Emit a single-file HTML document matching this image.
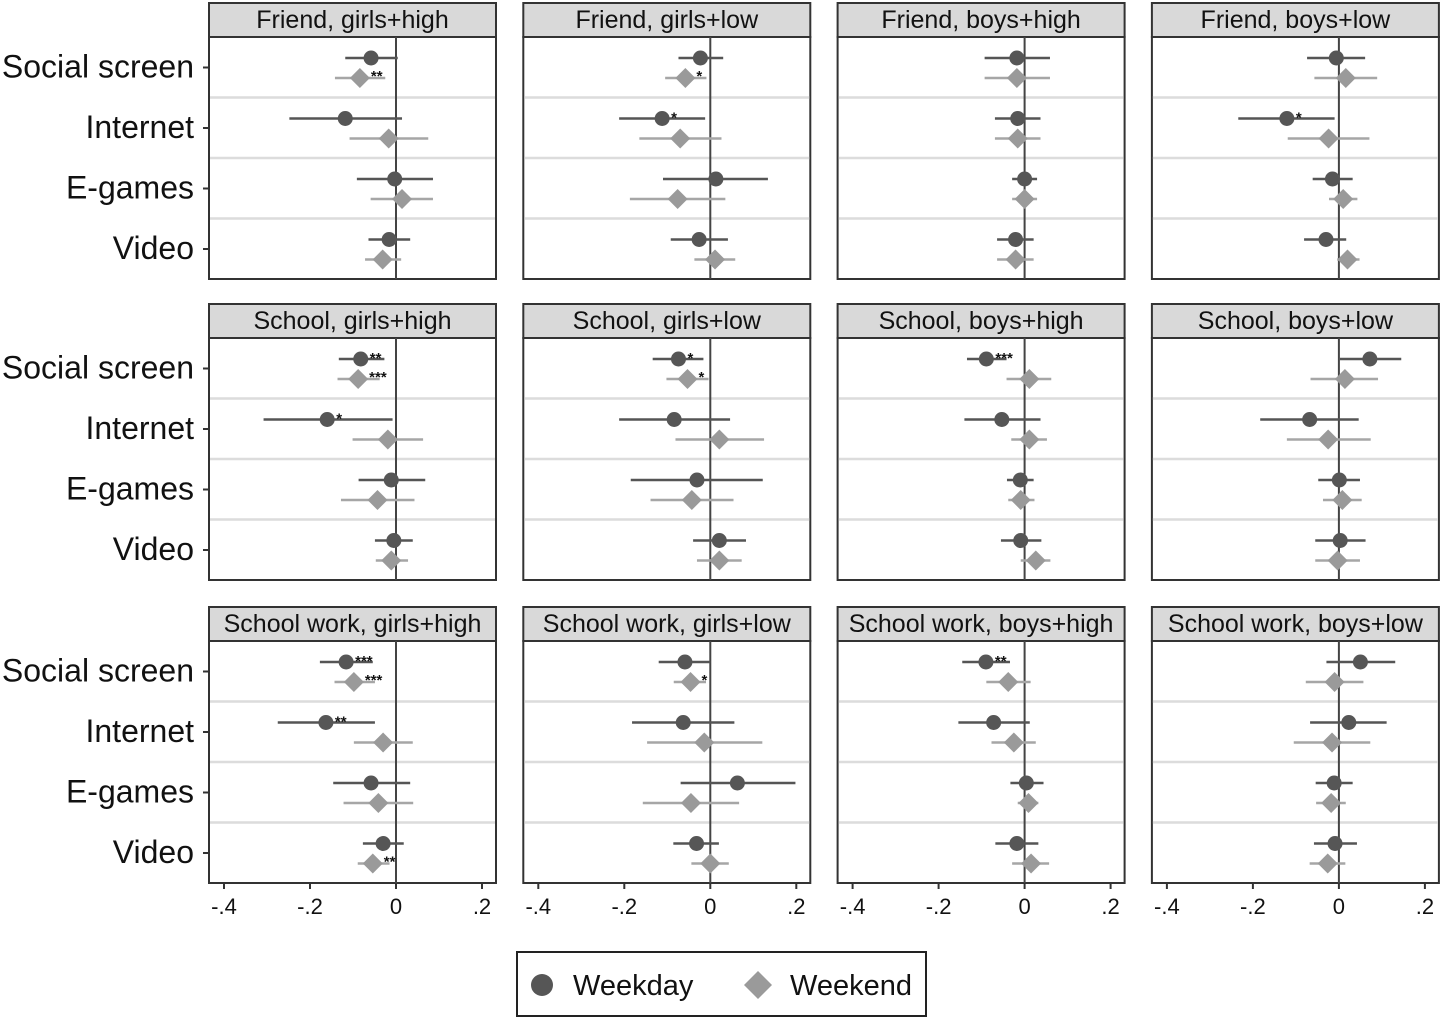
<!DOCTYPE html>
<html><head><meta charset="utf-8"><style>
html,body{margin:0;padding:0;background:#fff;}
svg{display:block;font-family:"Liberation Sans",Arial,sans-serif;}
</style></head><body>
<svg id="chart" width="1441" height="1018" viewBox="0 0 1441 1018" xmlns="http://www.w3.org/2000/svg"></svg>
<script>
const panelTitles = ["Friend, girls+high","Friend, girls+low","Friend, boys+high","Friend, boys+low",
"School, girls+high","School, girls+low","School, boys+high","School, boys+low",
"School work, girls+high","School work, girls+low","School work, boys+high","School work, boys+low"];
const categories = ["Social screen","Internet","E-games","Video"];
const xTicks = [-0.4,-0.2,0,0.2];
const xTickLabels = ["-.4","-.2","0",".2"];
const wdEst = [[-0.058,-0.118,-0.003,-0.016],[-0.023,-0.112,0.013,-0.026],[-0.018,-0.016,0,-0.021],[-0.006,-0.121,-0.015,-0.03],
[-0.082,-0.16,-0.011,-0.005],[-0.074,-0.084,-0.031,0.021],[-0.089,-0.053,-0.01,-0.009],[0.072,-0.068,0.001,0.003],
[-0.116,-0.163,-0.058,-0.03],[-0.059,-0.063,0.063,-0.032],[-0.09,-0.072,0.004,-0.018],[0.05,0.023,-0.011,-0.009]];
const wdLo = [[-0.118,-0.248,-0.091,-0.064],[-0.074,-0.212,-0.11,-0.092],[-0.093,-0.069,-0.029,-0.064],[-0.074,-0.234,-0.061,-0.081],
[-0.133,-0.308,-0.087,-0.049],[-0.134,-0.212,-0.185,-0.04],[-0.134,-0.14,-0.041,-0.055],[0,-0.183,-0.048,-0.055],
[-0.177,-0.275,-0.146,-0.077],[-0.12,-0.182,-0.069,-0.086],[-0.145,-0.154,-0.033,-0.068],[-0.029,-0.067,-0.054,-0.058]];
const wdHi = [[0.004,0.014,0.086,0.033],[0.03,-0.012,0.134,0.041],[0.059,0.037,0.029,0.021],[0.061,-0.01,0.032,0.017],
[-0.027,-0.008,0.068,0.039],[-0.016,0.046,0.122,0.083],[-0.042,0.037,0.021,0.039],[0.145,0.046,0.049,0.062],
[-0.054,-0.049,0.033,0.018],[0,0.056,0.198,0.02],[-0.034,0.012,0.044,0.032],[0.131,0.111,0.032,0.042]];
const weEst = [[-0.084,-0.017,0.014,-0.031],[-0.058,-0.07,-0.076,0.011],[-0.018,-0.016,0,-0.021],[0.016,-0.024,0.01,0.02],
[-0.088,-0.019,-0.043,-0.011],[-0.053,0.021,-0.043,0.021],[0.011,0.011,-0.009,0.026],[0.014,-0.025,0.008,-0.003],
[-0.098,-0.03,-0.041,-0.054],[-0.046,-0.014,-0.045,0],[-0.038,-0.025,0.009,0.015],[-0.01,-0.016,-0.018,-0.026]];
const weLo = [[-0.142,-0.108,-0.059,-0.072],[-0.105,-0.165,-0.187,-0.037],[-0.093,-0.069,-0.029,-0.064],[-0.057,-0.119,-0.023,-0.004],
[-0.136,-0.101,-0.128,-0.047],[-0.102,-0.081,-0.139,-0.031],[-0.042,-0.031,-0.038,-0.009],[-0.066,-0.121,-0.037,-0.055],
[-0.143,-0.098,-0.122,-0.089],[-0.085,-0.147,-0.157,-0.044],[-0.089,-0.077,-0.016,-0.029],[-0.077,-0.105,-0.053,-0.068]];
const weHi = [[-0.025,0.075,0.086,0.012],[-0.009,0.026,0.035,0.058],[0.059,0.037,0.029,0.021],[0.089,0.071,0.043,0.048],
[-0.038,0.063,0.043,0.028],[-0.004,0.125,0.054,0.073],[0.062,0.052,0.023,0.06],[0.091,0.074,0.053,0.049],
[-0.049,0.039,0.04,-0.015],[-0.01,0.121,0.067,0.043],[0.014,0.026,0.032,0.057],[0.057,0.073,0.016,0.015]];
const wdStars = [["","","",""],["","*","",""],["","","",""],["","*","",""],
["**","*","",""],["*","","",""],["***","","",""],["","","",""],
["***","**","",""],["","","",""],["**","","",""],["","","",""]];
const weStars = [["**","","",""],["*","","",""],["","","",""],["","","",""],
["***","","",""],["*","","",""],["","","",""],["","","",""],
["***","","","**"],["*","","",""],["","","",""],["","","",""]];

const NS = "http://www.w3.org/2000/svg";
const svg = document.getElementById('chart');
function mk(tag, attrs, parent){const e=document.createElementNS(NS,tag);for(const k in attrs)e.setAttribute(k,attrs[k]);(parent||svg).appendChild(e);return e;}
const panelLeft = c => 209 + 314.3*c;
const panelW = 287;
const headerTop = [3,304,607];
const headerH = 34;
const plotH = 242;
const PX_PER_UNIT = 430;
const X_ZERO_OFF = 187;
function xScale(c, v){return panelLeft(c) + X_ZERO_OFF + v*PX_PER_UNIT;}
function yCat(r, i){const top = headerTop[r]+headerH; return top + 30.5 + i*60.5;}

for (let p=0;p<12;p++){
  const r = Math.floor(p/4), c = p%4;
  const L = panelLeft(c), T = headerTop[r], PT = T+headerH;
  const g = mk('g',{});
  
  
  const hd = mk('rect',{x:L,y:T,width:panelW,height:headerH,fill:'#d9d9d9',stroke:'#333','stroke-width':2},g);
  
  
  const ht = mk('text',{x:L+panelW/2,y:T+25,'text-anchor':'middle','font-size':25,fill:'#111'},g);
  ht.textContent = panelTitles[p];
  
  
  mk('rect',{x:L,y:PT,width:panelW,height:plotH,fill:'#fff',stroke:'#333','stroke-width':2},g);
  for (let s=1;s<4;s++){
    const yy = PT + s*60.5;
    mk('line',{x1:L+1,x2:L+panelW-1,y1:yy,y2:yy,stroke:'#dcdcdc','stroke-width':2.5},g);
  }
  const zx = xScale(c,0);
  const zl = mk('line',{x1:zx,x2:zx,y1:PT,y2:PT+plotH,stroke:'#444','stroke-width':2},g);
  
  
  if (c===0){
    for (let i=0;i<4;i++){
      const yy = yCat(r,i);
      mk('line',{x1:L-6,x2:L,y1:yy,y2:yy,stroke:'#333','stroke-width':2},g);
      const lt = mk('text',{x:194,y:yy+10,'text-anchor':'end','font-size':32,fill:'#111'},g);
      lt.textContent = categories[i];
      
      
    }
  }
  if (r===2){
    for (let k=0;k<xTicks.length;k++){
      const tx = xScale(c,xTicks[k]);
      mk('line',{x1:tx,x2:tx,y1:PT+plotH,y2:PT+plotH+6,stroke:'#333','stroke-width':2},g);
      const tl = mk('text',{x:tx,y:PT+plotH+31,'text-anchor':'middle','font-size':22,fill:'#111'},g);
      tl.textContent = xTickLabels[k];
      
      
    }
  }
  for (let i=0;i<4;i++){
    const yc = yCat(r,i);
    const yw = yc + 10.5;
    const wl = mk('line',{x1:xScale(c,weLo[p][i]),x2:xScale(c,weHi[p][i]),y1:yw,y2:yw,stroke:'#a6a6a6','stroke-width':2.5},g);
    
    
    const wx = xScale(c,weEst[p][i]);
    const dm = mk('polygon',{points:`${wx},${yw-10} ${wx+10},${yw} ${wx},${yw+10} ${wx-10},${yw}`,fill:'#9a9a9a'},g);
    
    
    if (weStars[p][i]){
      const st = mk('text',{x:wx+11,y:yw+3,'font-size':15,'font-weight':'bold',fill:'#111'},g);
      st.textContent = weStars[p][i];
      
      
    }
    const yd = yc - 9.5;
    const dl = mk('line',{x1:xScale(c,wdLo[p][i]),x2:xScale(c,wdHi[p][i]),y1:yd,y2:yd,stroke:'#555','stroke-width':2.5},g);
    
    
    const dx = xScale(c,wdEst[p][i]);
    const ci = mk('circle',{cx:dx,cy:yd,r:7.5,fill:'#565656'},g);
    
    
    if (wdStars[p][i]){
      const st = mk('text',{x:dx+9,y:yd+4,'font-size':15,'font-weight':'bold',fill:'#111'},g);
      st.textContent = wdStars[p][i];
      
      
    }
  }
}
const lg = mk('g',{});


mk('rect',{x:517,y:952,width:409,height:64,fill:'#fff',stroke:'#222','stroke-width':2},lg);
const le1 = mk('circle',{cx:542,cy:985,r:11,fill:'#565656'},lg);


const lt1 = mk('text',{x:573,y:995,'font-size':29,fill:'#111'},lg);
lt1.textContent='Weekday';


const le2 = mk('polygon',{points:'758,971 772,985 758,999 744,985',fill:'#9a9a9a'},lg);


const lt2 = mk('text',{x:790,y:995,'font-size':29,fill:'#111'},lg);
lt2.textContent='Weekend';


</script>
</body></html>
